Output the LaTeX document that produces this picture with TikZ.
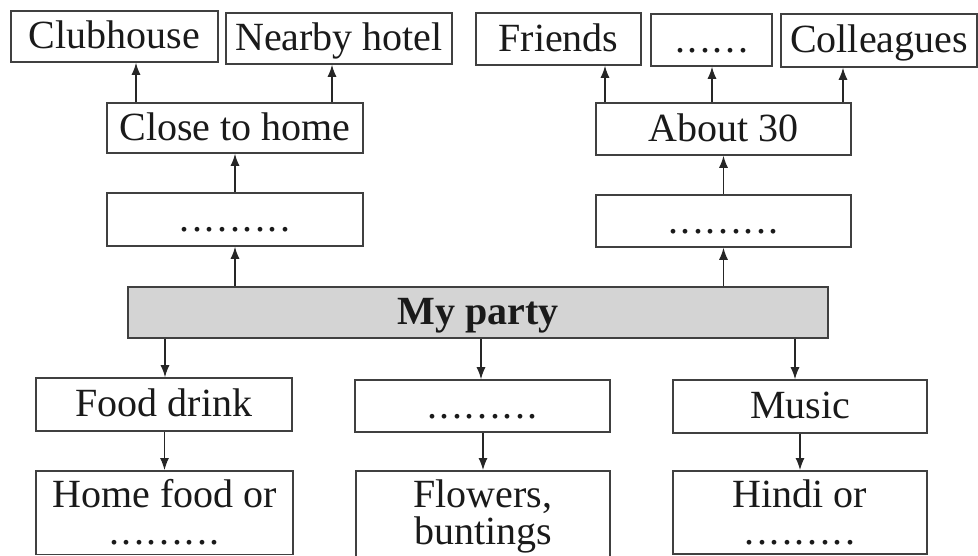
\documentclass[tikz,border=0pt]{standalone}
\usepackage{fontspec}
\setmainfont{Liberation Serif}
\usetikzlibrary{arrows.meta}
\definecolor{boxline}{HTML}{404040}
\definecolor{txt}{HTML}{1A1A1A}
\definecolor{partyfill}{HTML}{D4D4D4}
\newcommand{\dd}{.\kern2.6pt}
\tikzset{
  box/.style={draw=boxline, line width=1.6pt, inner sep=0pt, text=txt,
    text height=30pt, text depth=6pt,
    font=\fontsize{40}{41}\selectfont},
  arr/.style={draw=black!85, line width=1.2pt, -{Latex[length=12pt,width=9pt]}},
  lowbox/.style={draw=boxline, line width=1.6pt, anchor=north, inner xsep=0pt, inner ysep=9pt,
    minimum width=#1, align=center, text=txt, font=\fontsize{40}{37}\selectfont},
}
\begin{document}
\begin{tikzpicture}[x=1pt,y=-1pt]
\useasboundingbox (0,0) rectangle (978,555);
\clip (0,0) rectangle (978,555);
\fill[white] (0,0) rectangle (978,555);
% top row
\node[box, minimum width=207, minimum height=51] (club) at (114.5,36.5) {Clubhouse};
\node[box, minimum width=226, minimum height=51] (hotel) at (339,38.5) {Nearby hotel};
\node[box, minimum width=165, minimum height=52] (friends) at (558.5,39) {Friends};
\node[box, minimum width=121, minimum height=52] (tdots) at (711.5,40) {\dd\dd\dd\dd\dd.};
\node[box, minimum width=196, minimum height=53] (coll) at (879,40.5) {Colleagues};
% second / third rows
\node[box, minimum width=256, minimum height=50] (close) at (235,128) {Close to home};
\node[box, minimum width=256, minimum height=53] (ldots) at (235,219.5) {\dd\dd\dd\dd\dd\dd\dd\dd.};
\node[box, minimum width=255, minimum height=52] (about) at (723.5,129) {About 30};
\node[box, minimum width=255, minimum height=52] (rdots) at (723.5,221) {\dd\dd\dd\dd\dd\dd\dd\dd.};
% centre
\node[box, fill=partyfill, minimum width=700, minimum height=51, font=\fontsize{40}{41}\selectfont\bfseries] (party) at (478,312.5) {My party};
% lower rows
\node[box, minimum width=256, minimum height=53] (food) at (164,404.5) {Food drink};
\node[box, minimum width=255, minimum height=52] (mdots) at (482.5,406) {\dd\dd\dd\dd\dd\dd\dd\dd.};
\node[box, minimum width=254, minimum height=53] (music) at (800,406.5) {Music};
\node[lowbox=257] (home) at (164.5,470) {Home food or\\ \dd\dd\dd\dd\dd\dd\dd\dd.};
\node[lowbox=254] (flowers) at (483,470) {Flowers,\\ buntings};
\node[lowbox=254] (hindi) at (800,470) {Hindi or\\ \dd\dd\dd\dd\dd\dd\dd\dd.};
% arrow columns
\coordinate (c1) at (136,0);
\coordinate (c2) at (332,0);
\coordinate (c3) at (605,0);
\coordinate (c4) at (712,0);
\coordinate (c5) at (843,0);
\coordinate (c6) at (165,0);
\coordinate (c7) at (481,0);
\coordinate (c8) at (795,0);
% arrows up
\draw[arr] (close.north -| c1) -- (club.south -| c1);
\draw[arr] (close.north -| c2) -- (hotel.south -| c2);
\draw[arr] (ldots.north) -- (close.south);
\draw[arr] (party.north -| ldots) -- (ldots.south);
\draw[arr] (about.north -| c3) -- (friends.south -| c3);
\draw[arr] (about.north -| c4) -- (tdots.south -| c4);
\draw[arr] (about.north -| c5) -- (coll.south -| c5);
\draw[arr] (rdots.north) -- (about.south);
\draw[arr] (party.north -| rdots) -- (rdots.south);
% arrows down
\draw[arr] (party.south -| c6) -- (food.north -| c6);
\draw[arr] (party.south -| c7) -- (mdots.north -| c7);
\draw[arr] (party.south -| c8) -- (music.north -| c8);
\draw[arr] (food.south -| home) -- (home.north);
\draw[arr] (mdots.south -| flowers) -- (flowers.north);
\draw[arr] (music.south -| hindi) -- (hindi.north);
\end{tikzpicture}
\end{document}
